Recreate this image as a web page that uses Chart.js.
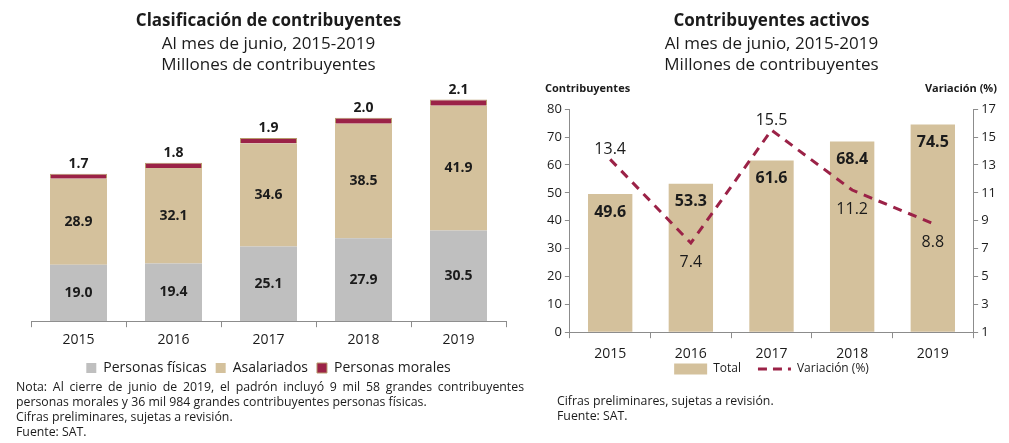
<!DOCTYPE html>
<html lang="es">
<head>
<meta charset="utf-8">
<script src="https://cdn.jsdelivr.net/npm/chart.js@4.4.1/dist/chart.umd.min.js"></script>
<style>
  body { margin: 0; background: #fff; font-family: "Open Sans", sans-serif; color: #1b1b1b; }
  #page { position: relative; width: 1009px; height: 443px; overflow: hidden; }
  .box { position: absolute; }
  .note { position: absolute; font-size: 12.3px; line-height: 15px; color: #1b1b1b; }
  .just { text-align: justify; text-align-last: left; }
</style>
</head>
<body>
<div id="page">
  <div class="box" style="left:0;top:0;width:525px;height:385px"><canvas id="clasificacion"></canvas></div>
  <div class="box" style="left:530px;top:0;width:479px;height:408px"><canvas id="activos"></canvas></div>
  <div class="note" style="left:16px;top:379px;width:508px">
    <div class="just">Nota: Al cierre de junio de 2019, el padrón incluyó 9 mil 58 grandes contribuyentes personas morales y 36 mil 984 grandes contribuyentes personas físicas.</div>
    <div>Cifras preliminares, sujetas a revisión.</div>
    <div>Fuente: SAT.</div>
  </div>
  <div class="note" style="left:557px;top:393px">
    <div>Cifras preliminares, sujetas a revisión.</div>
    <div>Fuente: SAT.</div>
  </div>
</div>
<script>
// datos (millones de contribuyentes)
const years = ['2015', '2016', '2017', '2018', '2019'];
const personasFisicas = [19.0, 19.4, 25.1, 27.9, 30.5];
const asalariados = [28.9, 32.1, 34.6, 38.5, 41.9];
const personasMorales = [1.7, 1.8, 1.9, 2.0, 2.1];
const totalActivos = [49.6, 53.3, 61.6, 68.4, 74.5];
const variacion = [13.4, 7.4, 15.5, 11.2, 8.8];
const leftTicks = [0, 10, 20, 30, 40, 50, 60, 70, 80];
const rightTicks = [1, 3, 5, 7, 9, 11, 13, 15, 17];

const GRAY = '#bfbfbf';
const TAN = '#d4c19c';
const WINE = '#9b2247';
const INK = '#1b1b1b';
const FONT = '"Open Sans", sans-serif';

// etiquetas de valor sobre barras y puntos
const valueLabels = {
  id: 'valueLabels',
  afterDatasetsDraw(chart) {
    const ctx = chart.ctx;
    ctx.save();
    ctx.textAlign = 'center';
    ctx.textBaseline = 'middle';
    chart.data.datasets.forEach((ds, di) => {
      const meta = chart.getDatasetMeta(di);
      const how = ds.labelMode;
      if (!how) return;
      meta.data.forEach((el, i) => {
        const txt = ds.data[i].toFixed(1);
        let y;
        if (how === 'center') {
          y = (el.y + el.base) / 2;
          ctx.font = 'bold 14px ' + FONT;
        } else if (how === 'above') {
          y = el.y - 10;
          ctx.font = 'bold 14px ' + FONT;
        } else if (how === 'inside') {
          y = el.y + 18;
          ctx.font = 'bold 16px ' + FONT;
        } else {
          y = ds.labelSide[i] === 'up' ? el.y - 10 : el.y + 19;
          ctx.font = '16px ' + FONT;
        }
        ctx.fillStyle = INK;
        ctx.fillText(txt, el.x, y);
      });
    });
    ctx.restore();
  }
};

// títulos horizontales de los ejes y leyenda pegada al eje (gráfica derecha)
const axisHeads = {
  id: 'axisHeads',
  afterLayout(chart) {
    chart.legend.top -= 23;
    chart.legend.bottom -= 23;
  },
  afterDraw(chart) {
    const ctx = chart.ctx;
    const top = chart.chartArea.top;
    ctx.save();
    ctx.font = 'bold 11px ' + FONT;
    ctx.fillStyle = INK;
    ctx.textBaseline = 'middle';
    ctx.textAlign = 'left';
    ctx.fillText('Contribuyentes', 15, top - 20);
    ctx.textAlign = 'right';
    ctx.fillText('Variación (%)', chart.width - 12, top - 20);
    ctx.restore();
  }
};

Chart.defaults.font.family = FONT;
Chart.defaults.color = INK;
Chart.defaults.animation = false;

new Chart(document.getElementById('clasificacion'), {
  type: 'bar',
  data: {
    labels: years,
    datasets: [
      { label: 'Personas físicas', data: personasFisicas, backgroundColor: GRAY, labelMode: 'center' },
      { label: 'Asalariados', data: asalariados, backgroundColor: TAN, labelMode: 'center' },
      { label: 'Personas morales', data: personasMorales, backgroundColor: WINE,
        borderColor: '#b89a6c', borderWidth: 1, labelMode: 'above' }
    ]
  },
  options: {
    responsive: true,
    maintainAspectRatio: false,
    layout: { padding: { left: 31, right: 19, top: 0, bottom: 0 } },
    datasets: { bar: { barPercentage: 0.6, categoryPercentage: 1 } },
    scales: {
      x: {
        stacked: true,
        grid: { display: true, drawOnChartArea: false, tickLength: 6, color: '#8c8c8c', offset: true },
        border: { color: '#8c8c8c' },
        ticks: { font: { size: 14 }, padding: 4 }
      },
      y: {
        stacked: true, display: false, min: 0, max: 80,
        afterBuildTicks: s => { s.ticks = leftTicks.map(v => ({ value: v })); }
      }
    },
    plugins: {
      title: { display: true, text: 'Clasificación de contribuyentes', font: { size: 17, weight: 'bold' },
        padding: { top: 11, bottom: 0 } },
      subtitle: { display: true, text: ['Al mes de junio, 2015-2019', 'Millones de contribuyentes'],
        font: { size: 17, weight: 'normal' }, color: INK, padding: { top: 3, bottom: 8 } },
      legend: { position: 'bottom', labels: { boxWidth: 10, boxHeight: 10, font: { size: 14 }, padding: 9 } },
      tooltip: { enabled: false }
    }
  },
  plugins: [valueLabels]
});

new Chart(document.getElementById('activos'), {
  type: 'bar',
  data: {
    labels: years,
    datasets: [
      { type: 'bar', label: 'Total', data: totalActivos, backgroundColor: TAN, yAxisID: 'y',
        order: 2, labelMode: 'inside' },
      { type: 'line', label: 'Variación (%)', data: variacion, yAxisID: 'y1', order: 1,
        borderColor: WINE, borderWidth: 3, borderDash: [9, 7], pointRadius: 0, fill: false,
        labelMode: 'point', labelSide: ['up', 'down', 'up', 'down', 'down'] }
    ]
  },
  options: {
    responsive: true,
    maintainAspectRatio: false,
    layout: { padding: { left: 14, right: 10, top: 0, bottom: 0 } },
    datasets: { bar: { barPercentage: 0.55, categoryPercentage: 1 } },
    scales: {
      x: {
        grid: { display: true, drawOnChartArea: false, tickLength: 6, color: '#8c8c8c', offset: true },
        border: { color: '#8c8c8c' },
        ticks: { font: { size: 14 }, padding: 7 }
      },
      y: {
        position: 'left', min: 0, max: 80,
        afterBuildTicks: s => { s.ticks = leftTicks.map(v => ({ value: v })); },
        grid: { display: true, drawOnChartArea: false, tickLength: 5, color: '#8c8c8c' },
        border: { color: '#8c8c8c' },
        ticks: { font: { size: 13 }, padding: 3 }
      },
      y1: {
        position: 'right', min: 1, max: 17,
        afterBuildTicks: s => { s.ticks = rightTicks.map(v => ({ value: v })); },
        grid: { display: true, drawOnChartArea: false, tickLength: 5, color: '#8c8c8c' },
        border: { color: '#8c8c8c' },
        ticks: { font: { size: 13 }, padding: 3 }
      }
    },
    plugins: {
      title: { display: true, text: 'Contribuyentes activos', font: { size: 17, weight: 'bold' },
        padding: { top: 11, bottom: 0 } },
      subtitle: { display: true, text: ['Al mes de junio, 2015-2019', 'Millones de contribuyentes'],
        font: { size: 17, weight: 'normal' }, color: INK, padding: { top: 3, bottom: 34 } },
      legend: {
        position: 'bottom',
        labels: {
          usePointStyle: true, pointStyleWidth: 33, boxHeight: 11, font: { size: 12 }, padding: 17,
          sort: (a, b) => a.datasetIndex - b.datasetIndex,
          generateLabels: chart => Chart.defaults.plugins.legend.labels.generateLabels(chart)
            .map(l => l.datasetIndex === 0
              ? Object.assign(l, { pointStyle: 'rect', lineWidth: 0 })
              : Object.assign(l, { pointStyle: 'line', lineDash: [9, 6], lineWidth: 3, strokeStyle: WINE }))
        }
      },
      tooltip: { enabled: false }
    }
  },
  plugins: [valueLabels, axisHeads]
});
</script>
</body>
</html>
